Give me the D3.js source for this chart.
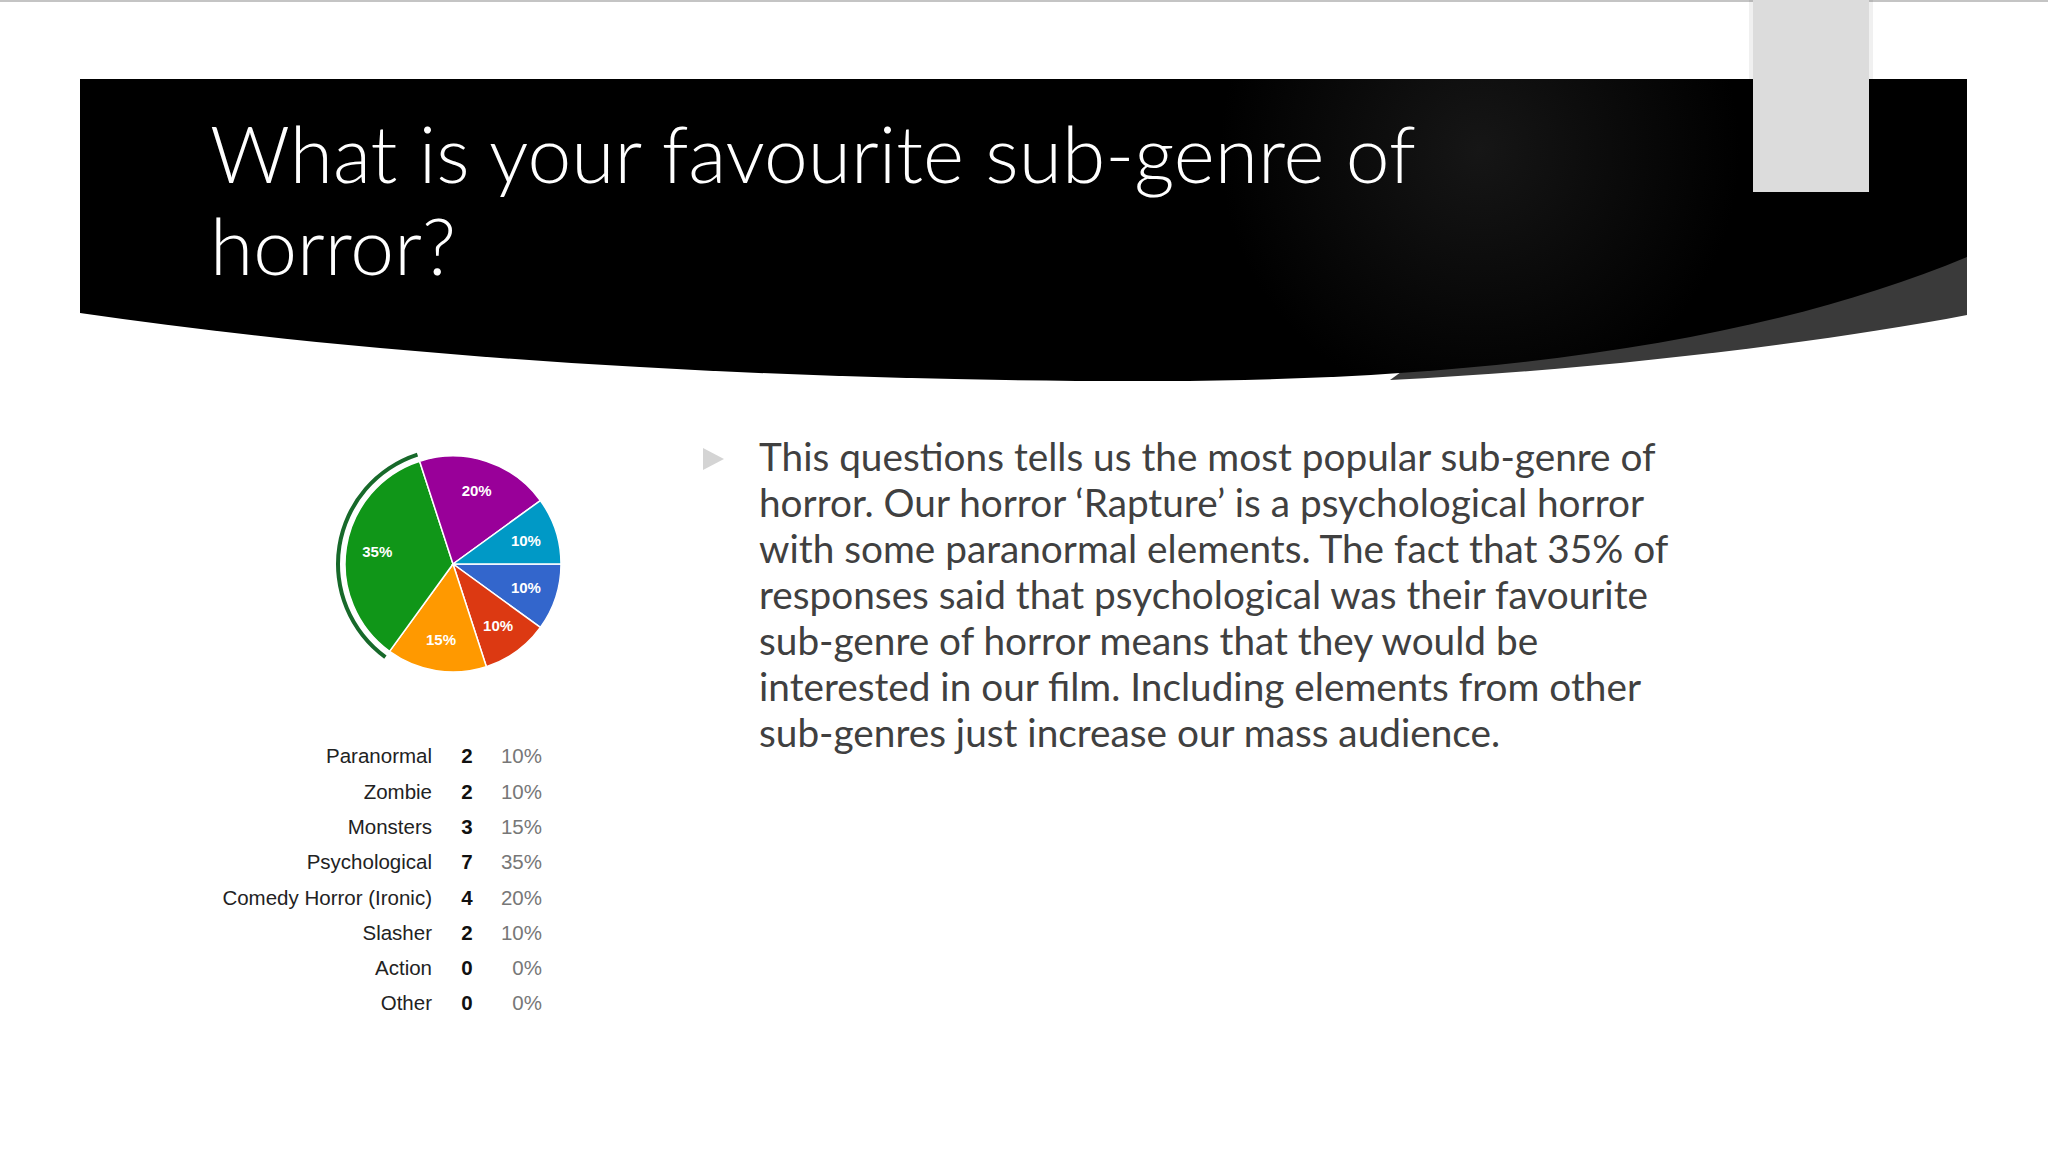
<!DOCTYPE html>
<head>
  <meta charset="utf-8">
  <script src="https://d3js.org/d3.v7.min.js"></script>
  <style>
    body { margin:0; background:#fff; }
    svg { display:block; }
  </style>
</head>
<body>
  <svg width="2048" height="1152"></svg>
  <script>
    // survey answers
    var genres = ['Paranormal', 'Zombie', 'Monsters', 'Psychological', 'Comedy Horror (Ironic)', 'Slasher', 'Action', 'Other'];
    var counts = [2, 2, 3, 7, 4, 2, 0, 0];
    var colours = ['#3366cc', '#dc3912', '#ff9900', '#109618', '#990099', '#0099c6', '#dd4477', '#66aa00'];
    var highlighted = 'Psychological';

    var titleLines = ['What is your favourite sub-genre of', 'horror?'];
    var bodyLines = [
      'This questions tells us the most popular sub-genre of',
      'horror. Our horror \u2018Rapture\u2019 is a psychological horror',
      'with some paranormal elements. The fact that 35% of',
      'responses said that psychological was their favourite',
      'sub-genre of horror means that they would be',
      'interested in our film. Including elements from other',
      'sub-genres just increase our mass audience.'
    ];

    var total = d3.sum(counts);
    var data = genres.map((g, i) => ({genre: g, count: counts[i], colour: colours[i]}));
    var pctFormat = d => Math.round(d / total * 100) + '%';

    var svg = d3.select('svg');

    // slide decoration
    var defs = svg.append('defs');
    var glow = defs.append('radialGradient').attr('id', 'glow')
      .attr('cx', 1480).attr('cy', 150).attr('r', 260).attr('gradientUnits', 'userSpaceOnUse');
    glow.append('stop').attr('offset', 0).attr('stop-color', '#161616');
    glow.append('stop').attr('offset', 1).attr('stop-color', '#000');

    svg.append('rect').attr('x', 0).attr('y', 0).attr('width', 2048).attr('height', 2).attr('fill', '#c4c4c4');

    svg.append('path')
      .attr('d', 'M1390,380 C1600,370 1820,343 1967,315 L1967,230 L1500,300 Z')
      .attr('fill', '#3a3a3a');
    svg.append('path')
      .attr('d', 'M80,79 H1967 V257 C1780,335 1520,380 1160,381 C800,382 400,360 80,313 Z')
      .attr('fill', 'url(#glow)');

    svg.append('rect').attr('x', 1749).attr('y', 0).attr('width', 124).attr('height', 192)
      .attr('fill', '#000').attr('opacity', 0.06);
    svg.append('rect').attr('x', 1753).attr('y', 0).attr('width', 116).attr('height', 192)
      .attr('fill', '#dcdcdc');

    // fit a text element to a target width by font size
    function fitSize(sel, target) {
      var fs = parseFloat(sel.style('font-size'));
      var w = sel.node().getComputedTextLength();
      return fs * target / w;
    }

    // title
    var title = svg.append('g').attr('font-family', 'Lato, "Open Sans", sans-serif')
      .attr('font-weight', 300).attr('fill', '#fff');
    var t0 = title.append('text').attr('x', 210).attr('y', 183).style('font-size', '80px').text(titleLines[0]);
    var titleSize = fitSize(t0, 1206);
    t0.remove();
    title.selectAll('text').data(titleLines).enter().append('text')
      .attr('x', 210).attr('y', (d, i) => 183 + i * 92)
      .style('font-size', titleSize + 'px')
      .text(d => d);

    // body text
    var body = svg.append('g').attr('font-family', 'Lato, "Open Sans", sans-serif').attr('fill', '#404040');
    var b0 = body.append('text').attr('x', 759).attr('y', 471).style('font-size', '40px').text(bodyLines[0]);
    var bodySize = fitSize(b0, 897);
    b0.remove();
    body.selectAll('text').data(bodyLines).enter().append('text')
      .attr('x', 759).attr('y', (d, i) => 471 + i * 46)
      .style('font-size', bodySize + 'px')
      .text(d => d);
    svg.append('path').attr('d', 'M703,448 L724,459 L703,470 Z').attr('fill', '#d4d4d4');

    // pie
    var cx = 453, cy = 564, radius = 108;
    var pie = d3.pie().sort(null).value(d => d.count)
      .startAngle(Math.PI / 2).endAngle(Math.PI / 2 + 2 * Math.PI);
    var arcs = pie(data).filter(d => d.data.count > 0);
    var arc = d3.arc().innerRadius(0).outerRadius(radius);
    var labelArc = d3.arc().innerRadius(radius * 0.71).outerRadius(radius * 0.71);
    var ringArc = d3.arc().innerRadius(radius + 5).outerRadius(radius + 9);

    var pieG = svg.append('g').attr('transform', 'translate(' + [cx, cy] + ')');
    pieG.selectAll('path.slice').data(arcs).enter().append('path')
      .attr('class', 'slice')
      .attr('d', arc)
      .attr('fill', d => d.data.colour)
      .attr('stroke', '#fff').attr('stroke-width', 1.5);
    pieG.selectAll('path.ring').data(arcs.filter(d => d.data.genre === highlighted)).enter().append('path')
      .attr('class', 'ring')
      .attr('d', ringArc)
      .attr('fill', '#17692a');
    pieG.selectAll('text').data(arcs).enter().append('text')
      .attr('transform', d => 'translate(' + labelArc.centroid(d) + ')')
      .attr('text-anchor', 'middle').attr('dy', '0.36em')
      .attr('font-family', '"Liberation Sans", Arial, sans-serif')
      .attr('font-size', 15).attr('font-weight', 'bold')
      .attr('fill', '#fff')
      .text(d => pctFormat(d.data.count));

    // table
    var rowY = d3.scalePoint().domain(genres).range([756, 756 + 7 * 35.3]);
    var table = svg.append('g').attr('font-family', '"Liberation Sans", Arial, sans-serif').attr('font-size', 20.5);
    var rows = table.selectAll('g').data(data).enter().append('g')
      .attr('transform', d => 'translate(0,' + rowY(d.genre) + ')');
    rows.append('text').attr('x', 432).attr('dy', '0.36em').attr('text-anchor', 'end')
      .attr('fill', '#222').text(d => d.genre);
    rows.append('text').attr('x', 467).attr('dy', '0.36em').attr('text-anchor', 'middle')
      .attr('font-weight', 'bold').attr('fill', '#111').text(d => d.count);
    rows.append('text').attr('x', 542).attr('dy', '0.36em').attr('text-anchor', 'end')
      .attr('fill', '#777').text(d => pctFormat(d.count));
  </script>
</body>
